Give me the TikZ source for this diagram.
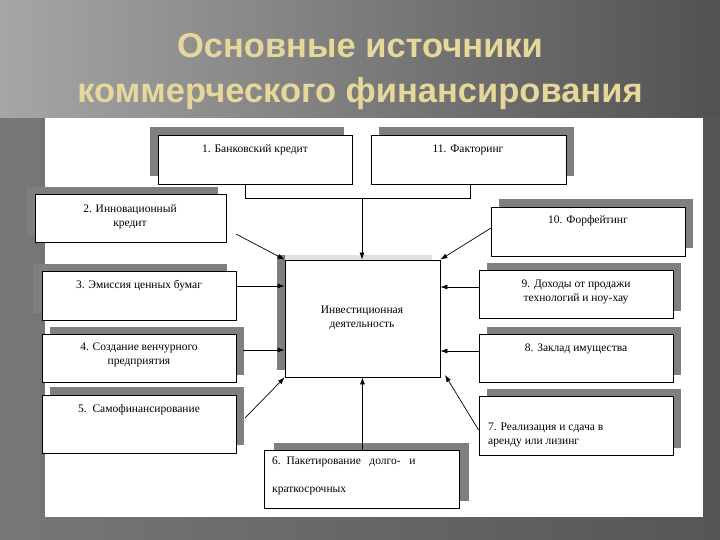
\documentclass[tikz,border=0pt]{standalone}
\usepackage{fontspec}
\setmainfont{Liberation Serif}
\newfontfamily\titlefont{Liberation Sans}
\usetikzlibrary{arrows.meta}
\definecolor{shc}{HTML}{7F7F7F}
\definecolor{titc}{HTML}{E6D79A}
\tikzset{x=1pt,y=-1pt,
 box/.style={draw=black, line width=0.8pt, fill=white, inner sep=0pt},
 lbl/.style={font=\fontsize{11.5}{14}\selectfont, align=center, inner sep=1pt},
 ttl/.style={font=\titlefont\bfseries\fontsize{34.5}{45}\selectfont, align=center},
 con/.style={line width=0.7pt},
 arr/.style={con, -{Latex[length=7pt,width=5pt]}}}
\newcommand{\mybox}[7]{%
 \fill[shc] (#2+#6,#3+#7) rectangle (#4+#6,#5+#7);
 \node[box, minimum width=#4-#2, minimum height=#5-#3] (#1) at ({(#2+#4)/2},{(#3+#5)/2}) {};}
\begin{document}
\begin{tikzpicture}
\useasboundingbox (0,0) rectangle (720,540);
\shade[left color=gray!70!white, right color=black!68] (0,0) rectangle (720,540);
\fill[black!65,opacity=0.6] (0,118) rectangle (720,540);
\fill[white] (45,118) rectangle (703,517);
\node[ttl, text=titc] (title) at (360,72) {Основные источники\\коммерческого финансирования};
\mybox{b1}{158}{135}{352}{184}{-8}{-8}
\mybox{b11}{371}{135}{566}{184}{8}{-8}
\mybox{b2}{35}{194}{226}{242}{-8}{-7}
\mybox{b10}{491}{207}{685}{256}{8}{-8}
\mybox{b3}{42}{271}{236}{320}{-9}{-7}
\mybox{b9}{479}{270}{673}{318}{8}{-7}
\mybox{b4}{42}{334}{236}{382}{8}{-7}
\mybox{b8}{479}{334}{673}{382}{8}{-7}
\mybox{b5}{42}{395}{236}{453}{8}{-8}
\mybox{b7}{479}{396}{673}{455}{8}{-7}
\mybox{b6}{264}{450}{459}{508}{10}{-7}
\fill[black!12] (285,255) rectangle (432,262);
\fill[shc] (277,255) rectangle (285,370);
\node[box, minimum width=155, minimum height=117] (c) at (362.5,318.5) {};
\node[lbl] (t1) at (255,150) {1. Банковский кредит};
\node[lbl] (t11) at (468,150) {11. Факторинг};
\node[lbl] (t2) at (130,217) {2. Инновационный\\кредит};
\node[lbl] (t10) at (588,221) {10. Форфейтинг};
\node[lbl] (t3) at (139,286) {3. Эмиссия ценных бумаг};
\node[lbl] (t9) at (576,292) {9. Доходы от продажи\\технологий и ноу-хау};
\node[lbl] (t4) at (139,355) {4. Создание венчурного\\предприятия};
\node[lbl] (t8) at (576,349) {8. Заклад имущества};
\node[lbl] (t5) at (139,410) {5.\ \ Самофинансирование};
\node[lbl, align=left, anchor=west] (t7) at (487,435) {7. Реализация и сдача в\\аренду или лизинг};
\node[lbl, align=left, anchor=west, font=\fontsize{11.5}{28}\selectfont] (t6) at (271,476) {6.\ \ Пакетирование\ \ \ долго-\ \ \ и\\краткосрочных};
\node[lbl] (tc) at (362,318) {Инвестиционная\\деятельность};
\coordinate (j1) at (245,198);
\coordinate (j2) at (470,198);
\coordinate (j3) at (362,198);
\draw[con] (b1.south -| j1) -- (j1) -- (j2) -- (b11.south -| j2);
\draw[arr] (j3) -- (c.north -| j3);
\draw[arr] (236,234) -- (c.north west);
\draw[arr] (491,228) -- (c.north east);
\draw[arr] (b3.east |- 0,286) -- (c.west |- 0,286);
\draw[arr] (b9.west |- 0,287) -- (c.east |- 0,287);
\draw[arr] (243,350) -- (c.west |- 0,350);
\draw[arr] (b8.west |- 0,351) -- (c.east |- 0,351);
\draw[arr] (245,418) -- (c.south west);
\draw[arr] (b7.west |- 0,430) -- (445,375);
\draw[arr] (b6.north -| c.south) -- (c.south);
\end{tikzpicture}
\end{document}
